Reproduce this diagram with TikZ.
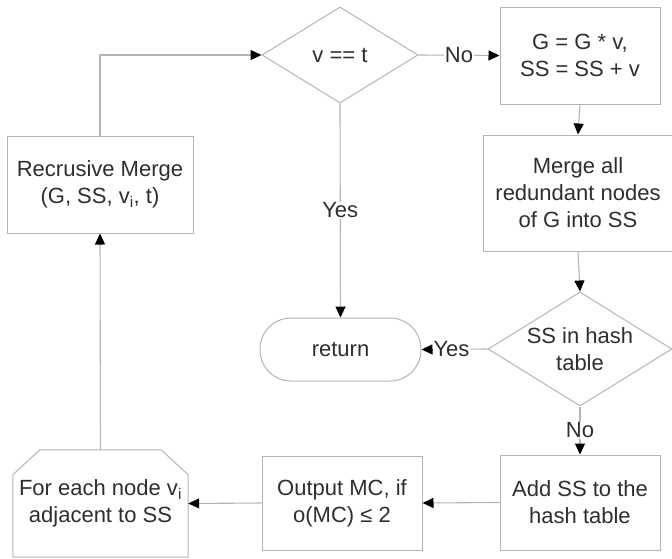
\documentclass[tikz,border=0pt]{standalone}
\usepackage{fontspec}
\setmainfont{Liberation Sans}
\usetikzlibrary{shapes.geometric,arrows.meta,calc}
\definecolor{linegray}{HTML}{B4B4B4}
\definecolor{textgray}{HTML}{2E2E2E}
\begin{document}
\begin{tikzpicture}[x=1pt,y=-1pt,
  font=\fontsize{22}{27}\selectfont, text=textgray,
  base/.style={inner sep=0pt, align=center},
  procbox/.style={base, draw=linegray, line width=1pt, rectangle},
  decision/.style={base, draw=linegray, line width=1pt, diamond},
  terminal/.style={base, draw=linegray, line width=1pt, rectangle, rounded corners=31pt},
  flow/.style={draw=linegray, line width=1.1pt, -{Triangle[length=11pt,width=10pt,color=black]}},
  lbl/.style={fill=white, inner sep=1pt}]

\useasboundingbox (0,0) rectangle (672,558);

% decisions
\node[decision, minimum width=156pt, minimum height=96pt] (d1) at (340,55) {};
\node[base] (d1t) at (d1) {v == t};
\node[decision, minimum width=184pt, minimum height=114pt] (d2) at (580,349) {};
\node[base] (d2t) at (d2) {SS in hash\\table};

% process boxes
\node[procbox, minimum width=160pt, minimum height=97pt] (gb) at (580,55.5) {G = G * v,\\SS = SS + v};
\node[procbox, minimum width=190pt, minimum height=116pt] (mg) at (578,193) {Merge all\\redundant nodes\\of G into SS};
\node[procbox, minimum width=160pt, minimum height=95pt] (add) at (580,502.5) {Add SS to the\\hash table};
\node[procbox, minimum width=160pt, minimum height=94pt] (out) at (342,503) {Output MC, if\\o(MC) ≤ 2};
\node[procbox, minimum width=186pt, minimum height=97pt] (rm) at (100,184.5) {Recrusive Merge\\(G, SS, v\textsubscript{i}, t)};

% terminal
\node[terminal, minimum width=161pt, minimum height=63pt] (ret) at (340.5,349.5) {return};

% loop-limit box with chamfered top corners
\node[base, minimum width=175pt, minimum height=107pt] (fe) at (100.5,503.5) {For each node v\textsubscript{i}\\adjacent to SS};
\draw[linegray, line width=1pt]
  (fe.south west) -- ($(fe.north west)+(0,25)$) -- ($(fe.north west)+(27,0)$)
  -- ($(fe.north east)+(-27,0)$) -- ($(fe.north east)+(0,25)$) -- (fe.south east) -- cycle;

% connectors
\draw[flow] (rm.north) |- (d1.west);
\draw[flow] (d1.east) -- node[lbl] {No} (gb.west);
\draw[flow] (gb.south) -- (mg.north);
\draw[flow] (mg.south) -- (d2.north);
\draw[flow] (d1.south) -- node[lbl] {Yes} (ret.north);
\draw[flow] (d2.west) -- node[lbl, xshift=-3pt] {Yes} (ret.east);
\draw[flow] (d2.south) -- node[lbl] {No} (add.north);
\draw[flow] (add.west) -- (out.east);
\draw[flow] (out.west) -- (fe.east);
\draw[flow] (fe.north) -- (rm.south);
\end{tikzpicture}
\end{document}
